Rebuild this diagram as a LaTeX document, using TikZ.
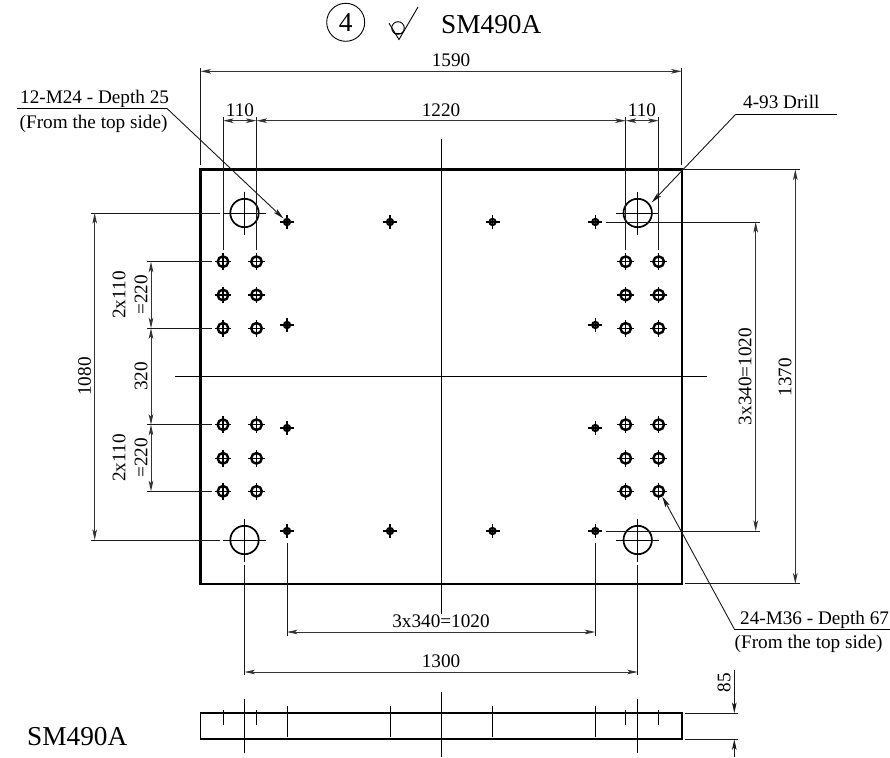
\documentclass[tikz,border=0pt]{standalone}
\usepackage{fontspec}
\setmainfont{Liberation Serif}
\usetikzlibrary{arrows.meta}
\tikzset{
  thin line/.style={line width=0.95pt,black!90},
  dimline/.style={line width=0.95pt,black!80,{Stealth[length=10.5pt,width=4.6pt,inset=2.5pt]}-{Stealth[length=10.5pt,width=4.6pt,inset=2.5pt]}},
  leader/.style={line width=0.9pt,black!90,-{Stealth[length=11pt,width=4.8pt,inset=2.5pt]}},
  halfdim/.style={line width=0.95pt,black!90,-{Stealth[length=10.5pt,width=4.6pt,inset=2.5pt]}},
  plate/.style={line width=2.1pt,black},
  sideplate/.style={line width=1.9pt,black},
  centre/.style={line width=0.95pt,black},
  lbl/.style={inner sep=0pt,font=\fontsize{19.2pt}{22pt}\selectfont},
  title/.style={inner sep=0pt,font=\fontsize{27.3pt}{30pt}\selectfont},
  rlbl/.style={lbl,rotate=90},
}
\newcommand{\bighole}[3]{%
  \draw[line width=1.7pt] (#1,#2) circle (14.2pt);
  \draw[line width=0.95pt] (#1-21.5,#2) -- (#1+21.5,#2) (#1,#2-21.5) -- (#1,#2+21.5);
  \coordinate (#3) at (#1,#2);
}
\newcommand{\mthirtysix}[2]{%
  \draw[line width=2.4pt] (#1,#2) circle (5.3pt);
  \draw[line width=1.3pt] (#1-8.3,#2) -- (#1+8.3,#2) (#1,#2-8.3) -- (#1,#2+8.3);
}
\newcommand{\mtwentyfour}[2]{%
  \draw[line width=1.9pt,fill=black!60] (#1,#2) circle (3.2pt);
  \draw[line width=1.1pt] (#1-7,#2) -- (#1+7,#2) (#1,#2-7) -- (#1,#2+7);
}
\begin{document}
\begin{tikzpicture}[x=1pt,y=-1pt]
\useasboundingbox (0,0) rectangle (890,757);
\clip (0,0) rectangle (890,757);
% ---- title
\node[circle,draw,line width=0.9pt,minimum size=38pt,inner sep=0pt,font=\fontsize{27.3pt}{30pt}\selectfont] (num) at (345.7,22.3) {4};
\draw[line width=0.9pt] (389,23.3) -- (399,39.5) -- (418,7);
\draw[line width=0.9pt] (398,28) circle (6.3pt);
\draw[line width=0.9pt] (393.8,33.2) -- (402.2,33.2);
\node[title,anchor=base west] (ttop) at (441,34) {SM490A};
\node[title,anchor=base west] (tbot) at (27,745) {SM490A};
% ---- plate
\draw[plate] (200.5,169.5) rectangle (681.7,583.7);
\draw[centre] (441,139) -- (441,614);
\draw[centre] (175,376.7) -- (706.7,376.7);
% ---- holes
\bighole{244.5}{213}{bh1}
\bighole{637.7}{213}{bh2}
\bighole{244.5}{540}{bh3}
\bighole{637.7}{540}{bh4}
\foreach \x in {223,256.5,625.7,658.7}
  \foreach \y in {261.7,295,328.3,424.7,458.3,491.3}
    {\mthirtysix{\x}{\y}}
\foreach \x in {287,390,492.5,595.3}
  {\mtwentyfour{\x}{222}\mtwentyfour{\x}{531}}
\foreach \x in {287,595.3}
  {\mtwentyfour{\x}{325}\mtwentyfour{\x}{428}}
% ---- 1590
\draw[thin line] (200.5,68) -- (200.5,165);
\draw[thin line] (681.7,68) -- (681.7,165);
\draw[dimline] (200.5,71.3) -- (681.7,71.3);
\node[lbl] (d1590) at (451,60.5) {1590};
% ---- 1220 and 110
\draw[thin line] (223,117) -- (223,250);
\draw[thin line] (256.5,117) -- (256.5,250);
\draw[thin line] (625.7,117) -- (625.7,250);
\draw[thin line] (658.7,117) -- (658.7,250);
\draw[dimline] (223,120.7) -- (256.5,120.7);
\draw[dimline] (256.5,120.7) -- (625.7,120.7);
\draw[dimline] (625.7,120.7) -- (658.7,120.7);
\node[lbl] (d110a) at (240,110) {110};
\node[lbl] (d1220) at (441,110) {1220};
\node[lbl] (d110b) at (642,110) {110};
% ---- leader 12-M24
\node[lbl,anchor=base west] (m24a) at (20,103.5) {12-M24 - Depth 25};
\node[lbl,anchor=base west] (m24b) at (19.5,128.5) {(From the top side)};
\coordinate (m24k) at (167,108.5);
\coordinate (m24t) at (283.5,218.5);
\draw[line width=0.9pt] (17,108.5) -- (m24k);
\draw[leader] (m24k) -- (m24t);
% ---- leader 4-93
\node[lbl,anchor=base west] (drill) at (743,109) {4-93 Drill};
\coordinate (drk) at (735.7,114.3);
\coordinate (drt) at (651.7,202.5);
\draw[line width=0.9pt] (837.3,114.3) -- (drk);
\draw[leader] (drk) -- (drt);
% ---- 1370
\draw[thin line] (681.7,169.5) -- (800,169.5);
\draw[thin line] (685,583.7) -- (800,583.7);
\draw[dimline] (795.3,169.5) -- (795.3,583.7);
\node[rlbl] (d1370) at (785,377) {1370};
% ---- right 3x340
\draw[thin line] (605.7,222) -- (760,222);
\draw[thin line] (605.7,531) -- (760,531);
\draw[dimline] (755.7,222) -- (755.7,531);
\node[rlbl] (d3r) at (745,376.5) {3x340=1020};
% ---- 1080
\draw[thin line] (91,213) -- (220,213);
\draw[thin line] (91,540) -- (220,540);
\draw[dimline] (94.7,213) -- (94.7,540);
\node[rlbl] (d1080) at (84.5,376.5) {1080};
% ---- left stack
\foreach \y in {261.7,328.3,424.7,491.3}
  \draw[thin line] (147.3,\y) -- (211.7,\y);
\draw[dimline] (151,261.7) -- (151,328.3);
\draw[dimline] (151,328.3) -- (151,424.7);
\draw[dimline] (151,424.7) -- (151,491.3);
\node[rlbl] (a1) at (119,295) {2x110};
\node[rlbl] (a2) at (141,295) {=220};
\node[rlbl] (a3) at (141,376.5) {320};
\node[rlbl] (a4) at (119,458) {2x110};
\node[rlbl] (a5) at (141,458) {=220};
% ---- bottom dims
\draw[thin line] (287,543) -- (287,635.7);
\draw[thin line] (595.3,543) -- (595.3,635.7);
\draw[dimline] (287,632) -- (595.3,632);
\node[lbl] (d3b) at (441,621.5) {3x340=1020};
\draw[thin line] (244.5,565) -- (244.5,675);
\draw[thin line] (637.7,565) -- (637.7,675);
\draw[dimline] (244.5,672) -- (637.7,672);
\node[lbl] (d1300) at (441,661) {1300};
% ---- leader 24-M36
\node[lbl,anchor=base west] (m36a) at (740,624) {24-M36 - Depth 67};
\node[lbl,anchor=base west] (m36b) at (734.5,648) {(From the top side)};
\coordinate (m36k) at (734.3,629);
\coordinate (m36t) at (662.3,496.5);
\draw[line width=0.9pt] (890,629) -- (m36k);
\draw[leader] (m36k) -- (m36t);
% ---- side view
\draw[sideplate] (200.5,713) rectangle (681.7,739.3);
\foreach \x in {244.5,637.7} \draw[centre] (\x,699) -- (\x,753.3);
\draw[centre] (441,692) -- (441,757);
\foreach \x in {287,390,492.5,595.3} \draw[centre] (\x,705.7) -- (\x,736.7);
\foreach \x in {223,256.5,625.7,658.7} \draw[centre] (\x,710) -- (\x,725);
% ---- 85
\draw[thin line] (685,713) -- (738,713);
\draw[thin line] (685,739.3) -- (738,739.3);
\draw[halfdim] (734.3,670) -- (734.3,713);
\draw[halfdim] (734.3,757) -- (734.3,739.3);
\node[rlbl] (d85) at (724,682.5) {85};
\end{tikzpicture}
\end{document}
